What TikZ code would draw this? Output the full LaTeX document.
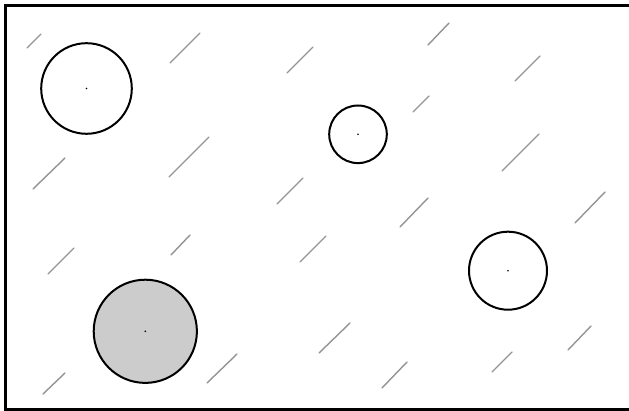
\documentclass[tikz,border=0pt]{standalone}
\begin{document}
\begin{tikzpicture}[x=1pt,y=-1pt,
  frame/.style={line width=3pt,black},
  rain/.style={line width=1.4pt,color=black!42,line cap=round},
  drop/.style={line width=2pt,black},
  centre/.style={fill=black}]
\useasboundingbox (0,0) rectangle (629,411);
\clip (0,0) rectangle (629,411);
\fill[white] (0,0) rectangle (629,411);
\draw[frame] (5.5,5.5) rectangle (640,409.5);
\foreach \a/\b/\c/\d in {27/48/41/34, 170/63/200/33, 287/73/313/47, 428/45/449/23,
  515/81/540/56, 413/112/429/96, 169/177/209/137, 33/189/65/158, 277/204/303/178,
  502/171/539/134, 400/227/428/198, 575/223/605/192, 48/274/74/248, 171/255/190/235,
  300/262/326/236, 43/394/65/373, 207/383/237/354, 319/353/350/323, 382/388/407/362,
  492/372/512/352, 568/350/591/326}
  \draw[rain] (\a,\b) -- (\c,\d);
\draw[drop] (86.5,88.5) circle (45.3);
\draw[drop] (358,134.3) circle (28.8);
\draw[drop] (508,270.7) circle (39);
\draw[drop,fill=black!20] (145.3,331.3) circle (51.6);
\foreach \x/\y in {86.5/88.5, 358/134.3, 508/270.7, 145.3/331.3}
  \fill[centre] (\x,\y) circle (0.9);
\end{tikzpicture}
\end{document}
